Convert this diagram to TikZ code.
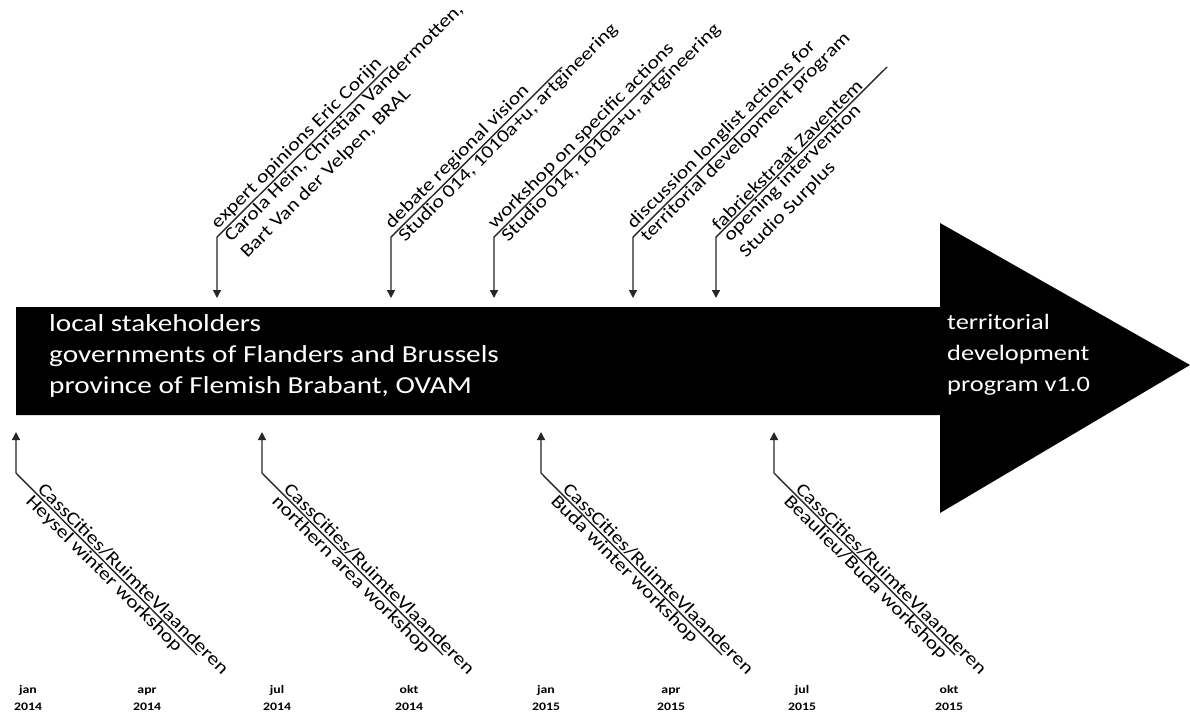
\documentclass[tikz,border=0pt]{standalone}
\usepackage{fontspec}
\setmainfont{Carlito}[FakeStretch=1.2]
\usetikzlibrary{arrows.meta,calc}
\begin{document}
\begin{tikzpicture}[x=1pt, y=-1pt,
  arr/.style={line width=1.4pt, draw=black!85, -{Triangle[width=8pt,length=8pt]}},
  diag/.style={font=\fontsize{18.2}{22.5}\selectfont, inner sep=1.5pt, align=left},
  lab/.style={font=\bfseries\fontsize{11.5}{17}\selectfont, align=center, inner sep=0pt},
  bartext/.style={text=white, font=\fontsize{24.4}{31.4}\selectfont, align=left, inner sep=0pt}]
\useasboundingbox (0,0) rectangle (1190,714);
% main arrow
\fill[black] (16,307) -- (940,307) -- (940,223) -- (1190,365) -- (940,513) -- (940,415) -- (16,415) -- cycle;
\node[bartext, anchor=north west] (stake) at (49,314) {local stakeholders\\governments of Flanders and Brussels\\province of Flemish Brabant, OVAM};
\node[bartext, font=\fontsize{22}{31}\selectfont, anchor=north west] (tdp) at (947,314) {territorial\\development\\program v1.0};
% top events
\foreach \i/\x in {1/217,2/391,3/494,4/633,5/716}{
  \coordinate (c\i) at (\x,237);
  \coordinate (e\i) at (\x+171,67);
  \coordinate (t\i) at (\x,298);
  \draw[arr] (e\i) -- (c\i) -- (t\i);
}
\node[diag, rotate=45, anchor=south west] (a1) at ($(c1)+(3,-3)$) {expert opinions Eric Corijn};
\node[diag, rotate=45, anchor=north west] (b1) at ($(c1)+(3,-3)$) {Carola Hein, Christian Vandermotten,\\Bart Van der Velpen, BRAL};
\node[diag, rotate=45, anchor=south west] (a2) at ($(c2)+(3,-3)$) {debate regional vision};
\node[diag, rotate=45, anchor=north west] (b2) at ($(c2)+(3,-3)$) {Studio 014, 1010a+u, artgineering};
\node[diag, rotate=45, anchor=south west] (a3) at ($(c3)+(3,-3)$) {workshop on specific actions};
\node[diag, rotate=45, anchor=north west] (b3) at ($(c3)+(3,-3)$) {Studio 014, 1010a+u, artgineering};
\node[diag, rotate=45, anchor=south west] (a4) at ($(c4)+(3,-3)$) {discussion longlist actions for};
\node[diag, rotate=45, anchor=north west] (b4) at ($(c4)+(3,-3)$) {territorial development program};
\node[diag, rotate=45, anchor=south west] (a5) at ($(c5)+(3,-3)$) {fabriekstraat Zaventem};
\node[diag, rotate=45, anchor=north west] (b5) at ($(c5)+(3,-3)$) {opening intervention\\Studio Surplus};
% bottom events
\foreach \i/\x in {1/16,2/262,3/541,4/774}{
  \coordinate (d\i) at (\x,473);
  \coordinate (f\i) at (\x+181,655);
  \coordinate (u\i) at (\x,432);
  \draw[arr] (f\i) -- (d\i) -- (u\i);
  \node[diag, rotate=-45, anchor=south west] (g\i) at ($(d\i)+(18,18)$) {CassCities/RuimteVlaanderen};
}
\node[diag, rotate=-45, anchor=north west] (h1) at ($(d1)+(18,18)$) {Heysel winter workshop};
\node[diag, rotate=-45, anchor=north west] (h2) at ($(d2)+(18,18)$) {northern area workshop};
\node[diag, rotate=-45, anchor=north west] (h3) at ($(d3)+(18,18)$) {Buda winter workshop};
\node[diag, rotate=-45, anchor=north west] (h4) at ($(d4)+(18,18)$) {Beaulieu/Buda workshop};
% time axis labels
\node[lab, anchor=north] (m1) at (28,684) {\rule{0pt}{9pt}jan\\2014};
\node[lab, anchor=north] (m2) at (147,684) {\rule{0pt}{9pt}apr\\2014};
\node[lab, anchor=north] (m3) at (277,684) {\rule{0pt}{9pt}jul\\2014};
\node[lab, anchor=north] (m4) at (409,684) {\rule{0pt}{9pt}okt\\2014};
\node[lab, anchor=north] (m5) at (546,684) {\rule{0pt}{9pt}jan\\2015};
\node[lab, anchor=north] (m6) at (671,684) {\rule{0pt}{9pt}apr\\2015};
\node[lab, anchor=north] (m7) at (802,684) {\rule{0pt}{9pt}jul\\2015};
\node[lab, anchor=north] (m8) at (949,684) {\rule{0pt}{9pt}okt\\2015};
\end{tikzpicture}
\end{document}
